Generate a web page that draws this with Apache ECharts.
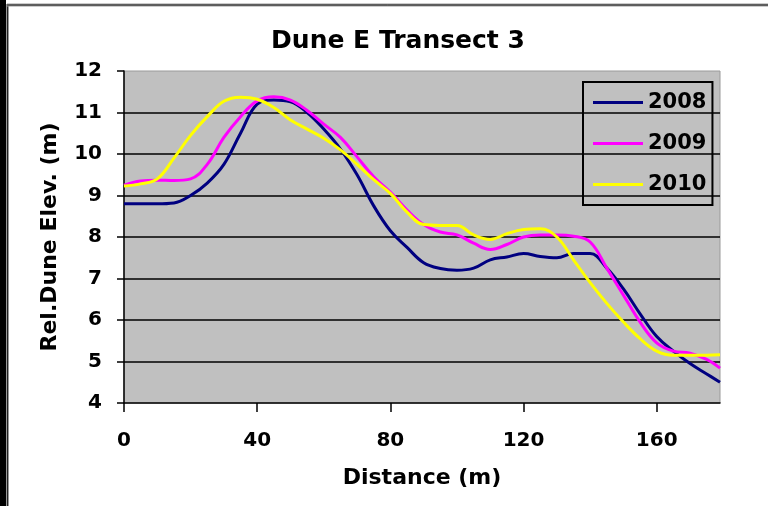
<!DOCTYPE html>
<html>
<head>
<meta charset="utf-8">
<script src="https://cdn.jsdelivr.net/npm/echarts@6/dist/echarts.min.js"></script>
<style>
html,body{margin:0;padding:0;background:#fff;}
#chart{width:768px;height:506px;}
</style>
</head>
<body>
<div id="chart"></div>
<script>
var distances = [0,5,10,15,20,25,30,35,40,45,50,55,60,65,70,75,80,85,90,95,100,105,110,115,120,125,130,135,140,145,150,155,160,165,170,175,179];
var elev2008 = [8.8,8.8,8.8,8.82,9.0,9.3,9.75,10.5,11.2,11.3,11.26,11.0,10.6,10.12,9.5,8.75,8.15,7.75,7.38,7.24,7.2,7.25,7.45,7.52,7.6,7.53,7.5,7.6,7.6,7.25,6.75,6.15,5.6,5.25,4.95,4.7,4.5];
var elev2009 = [9.25,9.35,9.37,9.36,9.4,9.75,10.4,10.9,11.28,11.38,11.3,11.05,10.72,10.4,9.93,9.45,9.08,8.65,8.3,8.12,8.05,7.85,7.7,7.82,8.0,8.05,8.05,8.02,7.88,7.25,6.6,5.95,5.45,5.25,5.2,5.05,4.84];
var elev2010 = [9.23,9.28,9.4,9.9,10.45,10.9,11.27,11.37,11.32,11.12,10.82,10.6,10.38,10.1,9.75,9.38,9.05,8.6,8.3,8.28,8.28,8.05,7.94,8.08,8.18,8.2,8.0,7.45,6.9,6.4,5.95,5.55,5.25,5.15,5.15,5.15,5.16];
var seriesNames = ['2008','2009','2010'];
var seriesColors = ['#000080','#ff00ff','#ffff00'];
var xTicks = [0,40,80,120,160];
var titleText = 'Dune E Transect 3';
var xName = 'Distance (m)';
var yName = 'Rel.Dune Elev. (m)';

function pairs(vals){ return distances.map(function(d,i){ return [d, vals[i]]; }); }
var allVals = [elev2008, elev2009, elev2010];
var FONT = 'DejaVu Sans';

var chart = echarts.init(document.getElementById('chart'), null, {renderer:'canvas'});
chart.setOption({
  animation: false,
  backgroundColor: '#ffffff',
  grid: {left:124, top:71, width:596, height:332, show:true, backgroundColor:'#c0c0c0', borderColor:'#9a9a9a', borderWidth:1},
  xAxis: {
    type:'value', min:0, max:179, interval:40,
    name: xName, nameLocation:'middle', nameGap:64,
    nameTextStyle:{fontFamily:FONT, fontWeight:'bold', fontSize:22, color:'#000'},
    axisLine:{show:true, onZero:false, lineStyle:{color:'#000', width:1.5}},
    axisTick:{show:true, inside:false, length:9, customValues:xTicks, lineStyle:{color:'#000', width:1.5}},
    axisLabel:{margin:28, customValues:xTicks, fontFamily:FONT, fontWeight:'bold', fontSize:20, color:'#000'},
    splitLine:{show:false}
  },
  yAxis: {
    type:'value', min:4, max:12, interval:1,
    name: yName, nameLocation:'middle', nameGap:63, nameRotate:90,
    nameTextStyle:{fontFamily:FONT, fontWeight:'bold', fontSize:22, color:'#000'},
    axisLine:{show:true, onZero:false, lineStyle:{color:'#000', width:1.5}},
    axisTick:{show:true, inside:false, length:7, lineStyle:{color:'#000', width:1.5}},
    axisLabel:{margin:22, fontFamily:FONT, fontWeight:'bold', fontSize:20, color:'#000'},
    splitLine:{show:true, showMinLine:false, showMaxLine:false, lineStyle:{color:'#000', width:1.5}}
  },
  legend: {
    orient:'vertical', left:583, top:82,
    data: seriesNames.map(function(n){ return {name:n, icon:'rect'}; }),
    backgroundColor:'rgba(0,0,0,0)', borderColor:'#000', borderWidth:2, borderRadius:0,
    padding:[10,6,10,10], itemWidth:50, itemHeight:3, itemGap:20,
    textStyle:{fontFamily:FONT, fontWeight:'bold', fontSize:21, lineHeight:21, color:'#000'}
  },
  series: seriesNames.map(function(n,i){
    return {
      name:n, type:'line', data:pairs(allVals[i]), smooth:0.4,
      symbol:'none', showSymbol:false,
      lineStyle:{color:seriesColors[i], width:3},
      itemStyle:{color:seriesColors[i]}
    };
  }),
  graphic: [
    {type:'rect', shape:{x:0,y:0,width:6,height:506}, style:{fill:'#000'}, silent:true},
    {type:'line', shape:{x1:7.5,y1:4,x2:7.5,y2:506}, style:{stroke:'#999', lineWidth:3}, silent:true},
    {type:'line', shape:{x1:7.5,y1:4,x2:7.5,y2:506}, style:{stroke:'#222', lineWidth:1}, silent:true},
    {type:'line', shape:{x1:7,y1:5,x2:768,y2:5}, style:{stroke:'#999', lineWidth:3}, silent:true},
    {type:'line', shape:{x1:7,y1:5,x2:768,y2:5}, style:{stroke:'#222', lineWidth:1}, silent:true},
    {type:'text', x:398, y:41, style:{text:titleText, x:0, y:0, textAlign:'center', textVerticalAlign:'middle', fontFamily:FONT, fontWeight:'bold', fontSize:25, fill:'#000'}, silent:true}
  ]
});
</script>
</body>
</html>
